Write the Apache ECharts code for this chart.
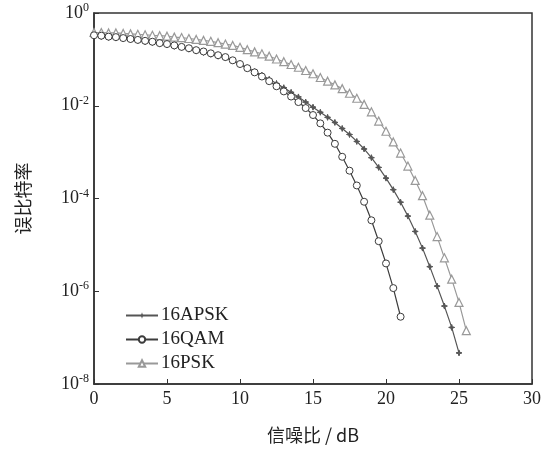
<!DOCTYPE html>
<html>
<head>
<meta charset="utf-8">
<script src="https://cdn.jsdelivr.net/npm/echarts@6/dist/echarts.min.js"></script>
<style>
  html, body { margin: 0; padding: 0; background: #fff; }
  #main { width: 545px; height: 450px; }
</style>
</head>
<body>
<div id="main"></div>
<script>
// 信噪比 (dB), 0.5 dB 步进
var snrApsk = [];
var snrQam = [];
var snrPsk = [];
for (var i = 0; i <= 50; i++) snrApsk.push(i / 2);
for (var i = 0; i <= 42; i++) snrQam.push(i / 2);
for (var i = 0; i <= 51; i++) snrPsk.push(i / 2);

// 误比特率
var berApsk = [
  0.316, 0.309, 0.295, 0.288, 0.275, 0.263, 0.251, 0.240, 0.229, 0.214,
  0.204, 0.191, 0.178, 0.166, 0.151, 0.141, 0.129, 0.117, 0.107, 0.0933,
  0.0794, 0.0661, 0.0550, 0.0457, 0.0372, 0.0302, 0.0245, 0.0195, 0.0155, 0.0120,
  0.00933, 0.00724, 0.00562, 0.00437, 0.00324, 0.00240, 0.00170, 0.00117, 7.59e-4, 4.68e-4,
  2.75e-4, 1.55e-4, 8.32e-5, 4.17e-5, 1.95e-5, 8.51e-6, 3.39e-6, 1.29e-6, 4.79e-7, 1.66e-7,
  4.68e-8
];
var berQam = [
  0.331, 0.324, 0.309, 0.302, 0.288, 0.275, 0.263, 0.251, 0.240, 0.224,
  0.214, 0.200, 0.186, 0.174, 0.158, 0.148, 0.135, 0.123, 0.112, 0.0955,
  0.0794, 0.0646, 0.0525, 0.0427, 0.0339, 0.0263, 0.0204, 0.0158, 0.0120, 0.00891,
  0.00631, 0.00417, 0.00263, 0.00151, 7.94e-4, 3.98e-4, 1.91e-4, 8.51e-5, 3.39e-5, 1.20e-5,
  3.98e-6, 1.17e-6, 2.82e-7
];
var berPsk = [
  0.380, 0.380, 0.372, 0.372, 0.363, 0.355, 0.347, 0.339, 0.331, 0.324,
  0.316, 0.302, 0.295, 0.282, 0.269, 0.257, 0.245, 0.229, 0.214, 0.200,
  0.182, 0.162, 0.145, 0.132, 0.117, 0.102, 0.0891, 0.0776, 0.0676, 0.0575,
  0.0490, 0.0407, 0.0339, 0.0282, 0.0234, 0.0186, 0.0145, 0.0107, 0.00741, 0.00468,
  0.00282, 0.00166, 9.55e-4, 5.01e-4, 2.45e-4, 1.15e-4, 4.37e-5, 1.51e-5, 5.25e-6, 1.82e-6,
  5.75e-7, 1.41e-7
];
var seriesNames = ['16APSK', '16QAM', '16PSK'];

function pairs(xs, ys) {
  return ys.map(function (y, k) { return [xs[k], y]; });
}

var serif = 'Liberation Serif';
var cjk = 'Noto Sans CJK SC';
var starPath = 'path://M0,-10 L2.5,-2.5 L10,0 L2.5,2.5 L0,10 L-2.5,2.5 L-10,0 L-2.5,-2.5 Z';

var chart = echarts.init(document.getElementById('main'), null, { renderer: 'canvas' });

var option = {
  animation: false,
  backgroundColor: '#fff',
  grid: {
    left: 94, top: 13, right: 13, bottom: 66,
    show: true,
    borderColor: '#333',
    borderWidth: 1.5
  },
  legend: {
    orient: 'vertical',
    left: 120,
    top: 301,
    itemWidth: 32,
    itemHeight: 8,
    itemGap: 5,
    data: seriesNames,
    textStyle: { fontFamily: serif, fontSize: 19, color: '#222', padding: [0, 0, 0, -2] }
  },
  xAxis: {
    type: 'value',
    min: 0, max: 30, interval: 5,
    name: '信噪比 / dB',
    nameLocation: 'middle',
    nameGap: 42,
    nameTextStyle: { fontFamily: cjk, fontSize: 18, color: '#222' },
    axisLine: { lineStyle: { color: '#333', width: 1.5 } },
    axisTick: { inside: true, length: 5, lineStyle: { color: '#333' } },
    axisLabel: { fontFamily: serif, fontSize: 18, color: '#222', margin: 6 },
    splitLine: { show: false }
  },
  yAxis: {
    type: 'log',
    logBase: 10,
    min: 1e-8, max: 1,
    interval: 2,
    name: '误比特率',
    nameLocation: 'middle',
    nameGap: 62,
    nameTextStyle: { fontFamily: cjk, fontSize: 18, color: '#222' },
    axisLine: { show: true, lineStyle: { color: '#333', width: 1.5 } },
    axisTick: { inside: true, length: 5, lineStyle: { color: '#333' } },
    axisLabel: {
      margin: 5,
      formatter: function (v) {
        var e = Math.round(Math.log10(v));
        return '{b|10}{s|' + e + '}';
      },
      rich: {
        b: { fontFamily: serif, fontSize: 18, color: '#222' },
        s: { fontFamily: serif, fontSize: 12, color: '#222', padding: [0, 0, 10, 0] }
      }
    },
    splitLine: { show: false },
    minorTick: { show: false }
  },
  series: [
    {
      name: seriesNames[0],
      type: 'line',
      data: pairs(snrApsk, berApsk),
      symbol: starPath,
      symbolSize: 6,
      showAllSymbol: true,
      color: '#555',
      lineStyle: { color: '#555', width: 1.2 },
      itemStyle: { color: '#555', borderColor: '#555' },
      z: 3
    },
    {
      name: seriesNames[1],
      type: 'line',
      data: pairs(snrQam, berQam),
      symbol: 'circle',
      symbolSize: 7,
      showAllSymbol: true,
      color: '#3c3c3c',
      lineStyle: { color: '#3c3c3c', width: 1.2 },
      itemStyle: { color: '#fff', borderColor: '#3c3c3c', borderWidth: 1 },
      z: 4
    },
    {
      name: seriesNames[2],
      type: 'line',
      data: pairs(snrPsk, berPsk),
      symbol: 'triangle',
      symbolSize: 8,
      showAllSymbol: true,
      color: '#999',
      lineStyle: { color: '#999', width: 1.2 },
      itemStyle: { color: '#fff', borderColor: '#999', borderWidth: 1.2 },
      z: 2
    }
  ]
};

chart.setOption(option);
</script>
</body>
</html>
